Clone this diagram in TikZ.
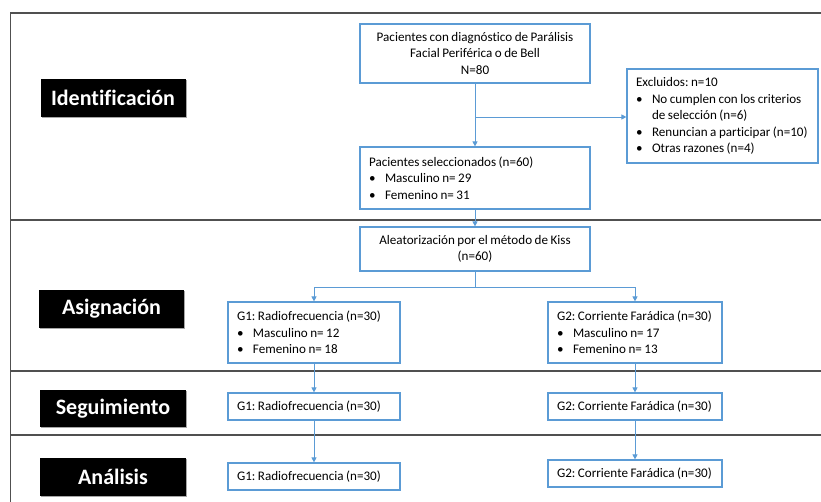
\documentclass[tikz,border=0pt]{standalone}
\usepackage{fontspec}
\setmainfont{Carlito}[Ligatures=CommonOff]
\newfontfamily\boxfont{Carlito}[Ligatures=CommonOff, WordSpace=0.85]
\usetikzlibrary{arrows.meta,shadows}
\definecolor{bl}{HTML}{5B9BD5}
\definecolor{fr}{HTML}{505050}
\tikzset{
 box/.style={draw=bl, line width=1.2pt, fill=white, inner xsep=9pt, inner ysep=2pt, font=\boxfont\fontsize{13.1}{16.5}\selectfont\frenchspacing, align=center},
 lbox/.style={box, align=left, execute at begin node={\spaceskip=\fontdimen2\font\xspaceskip=\fontdimen2\font}},
 lbl/.style={fill=black, text=white, inner sep=0pt, font=\fontsize{22}{24}\selectfont\bfseries, drop shadow={shadow xshift=1.2pt, shadow yshift=-1.2pt, fill=gray!70, opacity=1}},
 arr/.style={draw=bl, line width=0.9pt, -{Triangle[length=5pt,width=5pt]}},
 ln/.style={draw=bl, line width=0.9pt},
 sep/.style={draw=fr, line width=1.6pt},
}
\newcommand\itm{\makebox[16pt][l]{\textbullet}}
\begin{document}
\begin{tikzpicture}[x=1pt,y=-1pt]
\useasboundingbox (0,0) rectangle (821,502);
% frame and separators
\draw[sep] (10.5,502) -- (10.5,13) -- (821,13);
\draw[sep] (10.5,220) -- (821,220);
\draw[sep] (10.5,371) -- (821,371);
\draw[sep] (10.5,435) -- (821,435);
% labels
\node[lbl, minimum width=145, minimum height=38] (lid) at (113,98) {Identificación};
\node[lbl, minimum width=145, minimum height=38] (las) at (111.5,309) {Asignación};
\node[lbl, minimum width=146, minimum height=37] (lse) at (113,408.5) {Seguimiento};
\node[lbl, minimum width=146, minimum height=38] (lan) at (113,477) {Análisis};
% boxes
\node[box, minimum width=230, minimum height=59] (b1) at (475,53.5)
  {Pacientes con diagnóstico de Parálisis\\Facial Periférica o de Bell\\N=80};
\node[lbox, text width=173, minimum height=94] (ex) at (722.5,116)
  {Excluidos: n=10\\\itm No cumplen con los criterios\\\hspace*{16pt}de selección (n=6)\\\itm Renuncian a participar (n=10)\\\itm Otras razones (n=4)};
\node[lbox, text width=212, minimum height=62] (b2) at (475,178)
  {Pacientes seleccionados (n=60)\\\itm Masculino n= 29\\\itm Femenino n= 31};
\node[box, minimum width=230, minimum height=44] (b3) at (475,249)
  {Aleatorización por el método de Kiss\\(n=60)};
\node[lbox, text width=154, minimum height=61] (g1) at (314,332.5)
  {G1: Radiofrecuencia (n=30)\\\itm Masculino n= 12\\\itm Femenino n= 18};
\node[lbox, text width=156, minimum height=61] (g2) at (635,332.5)
  {G2: Corriente Farádica (n=30)\\\itm Masculino n= 17\\\itm Femenino n= 13};
\node[lbox, text width=154, minimum height=27] (g1s) at (314,406.5) {G1: Radiofrecuencia (n=30)};
\node[lbox, text width=156, minimum height=27] (g2s) at (635,406.5) {G2: Corriente Farádica (n=30)};
\node[lbox, text width=154, minimum height=27] (g1a) at (314,476.5) {G1: Radiofrecuencia (n=30)};
\node[lbox, text width=156, minimum height=27] (g2a) at (635,473.5) {G2: Corriente Farádica (n=30)};
% connectors
\draw[arr] (b1) -- (b2);
\coordinate (j1) at (475,117);
\draw[arr] (j1) -- (j1 -| ex.west);
\draw[arr] (b2) -- (b3);
\coordinate (j2) at (475,287);
\draw[ln] (b3.south) -- (j2);
\draw[arr] (j2) -| (g1);
\draw[arr] (j2) -| (g2);
\draw[arr] (g1) -- (g1s);
\draw[arr] (g1s) -- (g1a);
\draw[arr] (g2) -- (g2s);
\draw[arr] (g2s) -- (g2a);
\end{tikzpicture}
\end{document}
